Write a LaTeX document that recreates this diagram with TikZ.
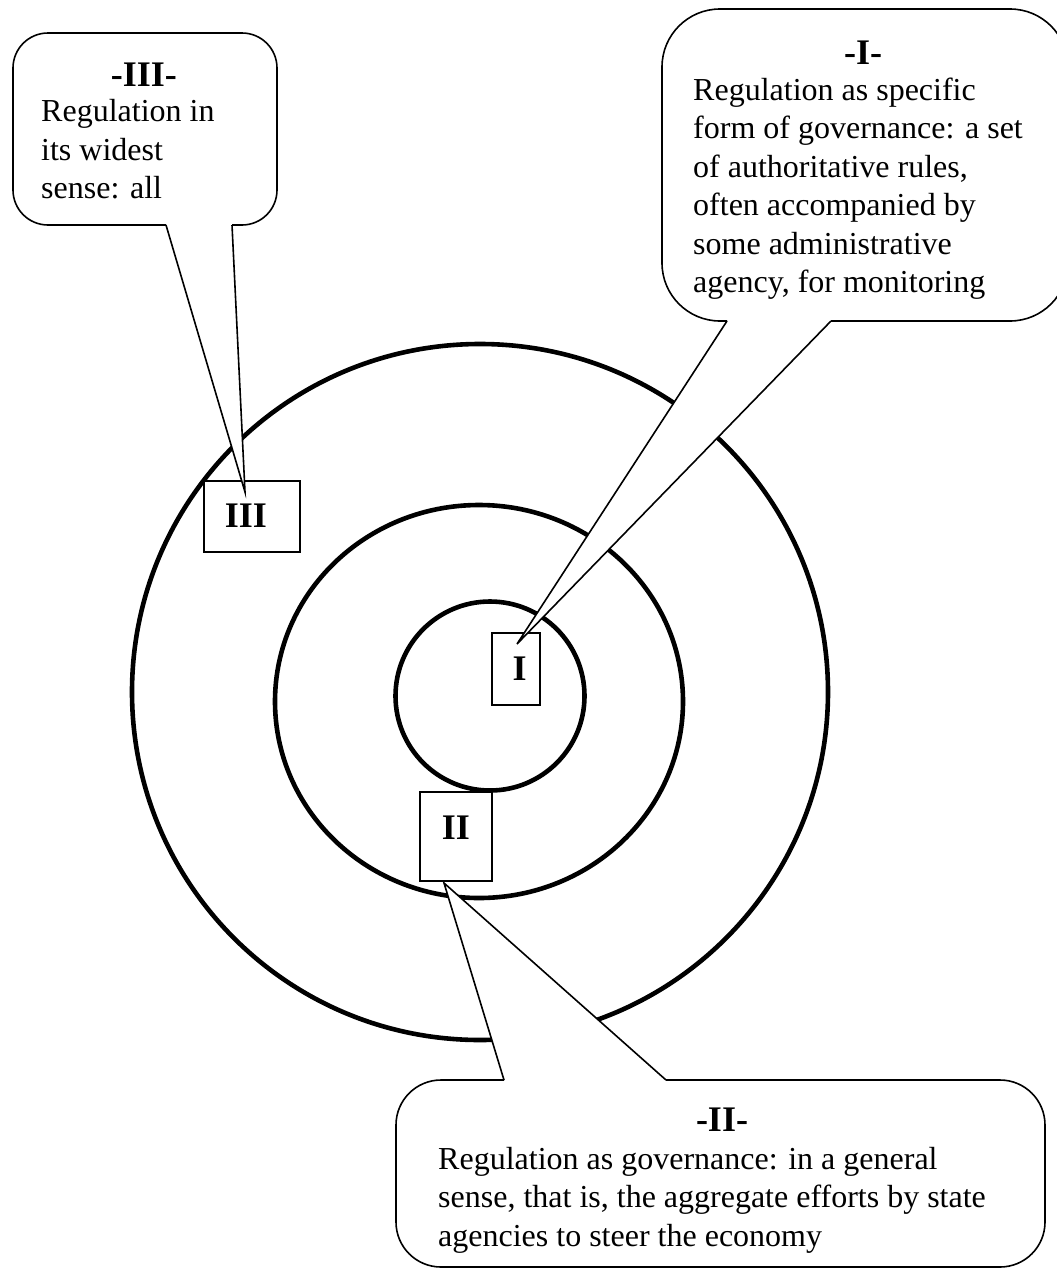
\documentclass[tikz,border=0pt]{standalone}
\usepackage{fontspec}
\setmainfont{Liberation Serif}
\usetikzlibrary{shapes.geometric}
\begin{document}
\begin{tikzpicture}[x=1pt,y=-1pt,
  ring/.style={draw, line width=4.6pt, inner sep=0pt},
  tag/.style={draw, line width=1.6pt, fill=white, inner sep=0pt, anchor=base,
    font=\fontsize{36}{40}\selectfont\bfseries},
  bubble/.style={line width=1.6pt},
  bubblefill/.style={fill=white},
  titletext/.style={anchor=base, inner sep=0pt, font=\fontsize{36}{40}\selectfont\bfseries},
  bodytext/.style={anchor=base west, inner sep=0pt, font=\fontsize{32}{38.5}\selectfont}]
\useasboundingbox (0,0) rectangle (1057,1269);
\clip (0,0) rectangle (1057,1269);

% rings
\node[ring, circle, minimum size=696pt] (outer) at (480,692) {};
\node[ring, ellipse, minimum width=408pt, minimum height=393pt] (middle) at (479,701.5) {};
\node[ring, circle, minimum size=189pt] (inner) at (490,696) {};

% labelled boxes
\node[tag, text height=47pt, text depth=25pt, minimum width=48pt] (boxI) at (516,680) {I\kern-7pt};
\node[tag, text height=47pt, text depth=42pt, minimum width=72pt] (boxII) at (456,839) {II};
\node[tag, text height=46pt, text depth=25pt, minimum width=96pt] (boxIII) at (252,527) {\kern-12pt III};

% callout tips
\coordinate (tipI) at (517,644);
\coordinate (tipII) at (444,883);
\coordinate (tipIII) at (245,492);

% callout III
\coordinate (a3) at (166,225);
\coordinate (b3) at (232,225);
\fill[bubblefill, rounded corners=35pt] (13,33) rectangle (277,225);
\fill[bubblefill] (a3) -- (tipIII) -- (b3) -- cycle;
\draw[bubble, rounded corners=35pt] (b3) -- (277,225) -- (277,33) -- (13,33) -- (13,225) -- (a3);
\draw[bubble] (a3) -- (tipIII) -- (b3);

% callout I
\coordinate (a1) at (727,321);
\coordinate (b1) at (831,321);
\fill[bubblefill, rounded corners=58pt] (662,9) rectangle (1068,321);
\fill[bubblefill] (a1) -- (tipI) -- (b1) -- cycle;
\draw[bubble, rounded corners=58pt] (b1) -- (1068,321) -- (1068,9) -- (662,9) -- (662,321) -- (a1);
\draw[bubble] (a1) -- (tipI) -- (b1);

% callout II
\coordinate (a2) at (504,1080);
\coordinate (b2) at (666,1080);
\fill[bubblefill, rounded corners=45pt] (396,1080) rectangle (1045,1267);
\fill[bubblefill] (a2) -- (tipII) -- (b2) -- cycle;
\draw[bubble, rounded corners=45pt] (b2) -- (1045,1080) -- (1045,1267) -- (396,1267) -- (396,1080) -- (a2);
\draw[bubble] (a2) -- (tipII) -- (b2);

% texts
\node[titletext] (titleIII) at (144,86) {-III-};
\node[bodytext] (bodyIII) at (41,121.5) {\begin{tabular}[t]{@{}l@{}}Regulation in\\its widest\\sense: all\end{tabular}};

\node[titletext] (titleI) at (863,64) {-I-};
\node[bodytext] (bodyI) at (693,100) {\begin{tabular}[t]{@{}l@{}}Regulation as specific\\form of governance: a set\\of authoritative rules,\\often accompanied by\\some administrative\\agency, for monitoring\end{tabular}};

\node[titletext] (titleII) at (722,1131) {-II-};
\node[bodytext] (bodyII) at (438,1169) {\begin{tabular}[t]{@{}l@{}}Regulation as governance: in a general\\sense, that is, the aggregate efforts by state\\agencies to steer the economy\end{tabular}};
\end{tikzpicture}
\end{document}
